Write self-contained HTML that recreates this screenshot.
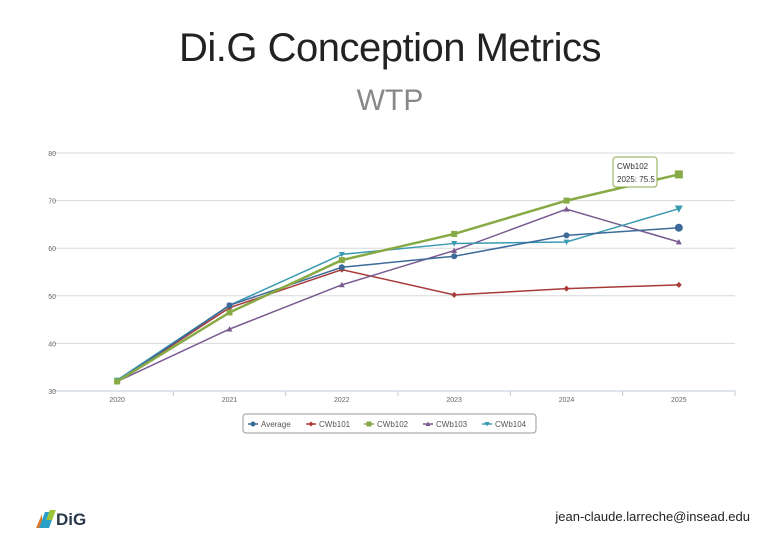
<!DOCTYPE html>
<html><head><meta charset="utf-8"><style>
body{margin:0;width:780px;height:540px;background:#fff;position:relative;overflow:hidden;font-family:"Liberation Sans","DejaVu Sans",sans-serif}
.t{position:absolute;left:0;width:780px;text-align:center}
</style></head><body>
<div class="t" style="top:26px;font-size:40px;color:#222;font-weight:300;letter-spacing:-0.5px">Di.G Conception Metrics</div>
<div class="t" style="top:84px;font-size:30px;color:#888">WTP</div>
<svg id="chart" width="780" height="540" style="position:absolute;left:0;top:0"></svg>
<div style="position:absolute;left:36px;top:510px;width:50px;height:20px">
<div style="position:absolute;left:0;top:4px;width:0;height:0;border-left:6px solid transparent;border-bottom:14px solid #e07a2a"></div>
<div style="position:absolute;left:6px;top:2px;width:10px;height:16px;background:#2aa0c8;transform:skewX(-20deg)"></div>
<div style="position:absolute;left:12px;top:0;width:6px;height:10px;background:#9cc43a;transform:skewX(-20deg)"></div>
<span style="position:absolute;left:20px;top:0;font-size:17px;font-weight:bold;color:#2a3a4a">DiG</span></div>
<div style="position:absolute;right:30px;top:509px;font-size:13px;color:#222">jean-claude.larreche@insead.edu</div>
<script>
const categories=["2020","2021","2022","2023","2024","2025"];
const yTicks=[30,40,50,60,70,80];
const seriesNames=["Average","CWb101","CWb102","CWb103","CWb104"];
const avgValues=[32,48,56,58.3,62.7,64.3];
const cwb101Values=[32,47.5,55.5,50.2,51.5,52.3];
const cwb102Values=[32,46.5,57.5,63,70,75.5];
const cwb103Values=[32,43,52.3,59.5,68.2,61.3];
const cwb104Values=[32.3,48,58.7,61,61.3,68.3];
const colors=["#3d6a9a","#a83a3a","#88aa44","#7a5a90","#3a9ab0"];
const markers=["circle","diamond","square","tri","tridown"];
const svg=document.getElementById('chart');const NS="http://www.w3.org/2000/svg";
const L=61,R=735,T=153,B=391;
const x=i=>L+(i+0.5)*(R-L)/categories.length;
const y=v=>B-(v-30)/50*(B-T);
function mk(tag,a,name){const e=document.createElementNS(NS,tag);for(const k in a)e.setAttribute(k,a[k]);


svg.appendChild(e);return e;}
yTicks.forEach(v=>{mk('line',{x1:L-8,x2:R,y1:y(v),y2:y(v),stroke:v==30?'#c0c8d8':'#d8d8d8','stroke-width':1},'gridline-'+v);
const t=mk('text',{x:L-5,y:y(v)+3,'font-size':7,fill:'#666','text-anchor':'end'},'y-tick-'+v);t.textContent=v;});
categories.forEach((c,i)=>{const t=mk('text',{x:x(i),y:B+11,'font-size':7,fill:'#666','text-anchor':'middle'},'x-tick-'+c);t.textContent=c;
const tx=L+(i+1)*(R-L)/categories.length;mk('line',{x1:tx,x2:tx,y1:B,y2:B+5,stroke:'#c0c8d8'},'x-tickmark');});
function marker(kind,cx,cy,c,s,name){
if(kind=="circle")return mk('circle',{cx,cy,r:s,fill:c},name);
if(kind=="square")return mk('rect',{x:cx-s,y:cy-s,width:2*s,height:2*s,fill:c},name);
let p;if(kind=="diamond")p=[[cx,cy-s],[cx+s,cy],[cx,cy+s],[cx-s,cy]];
else if(kind=="tri")p=[[cx,cy-s],[cx+s,cy+s*0.8],[cx-s,cy+s*0.8]];
else p=[[cx,cy+s],[cx+s,cy-s*0.8],[cx-s,cy-s*0.8]];
return mk('polygon',{points:p.map(q=>q.join(',')).join(' '),fill:c},name);}
const all=[avgValues,cwb101Values,cwb102Values,cwb103Values,cwb104Values];
[1,3,4,0,2].forEach(si=>{const vals=all[si];const w=si==2?2.5:1.5;
mk('polyline',{points:vals.map((v,i)=>x(i)+','+y(v)).join(' '),fill:'none',stroke:colors[si],'stroke-width':w},'line-'+seriesNames[si].toLowerCase());
vals.forEach((v,i)=>{const big=(si==2||si==0||si==4)&&i==5;marker(markers[si],x(i),y(v),colors[si],big?4:3,'point-'+seriesNames[si].toLowerCase()+'-'+categories[i]);});});
// tooltip
mk('rect',{x:613,y:157,width:44,height:30,rx:3,fill:'#fff',stroke:'#88aa44','stroke-width':1},'tooltip-box');
let tt=mk('text',{x:617,y:169,'font-size':8,fill:'#333'},'tooltip-series');tt.textContent=seriesNames[2];
tt=mk('text',{x:617,y:182,'font-size':8,fill:'#333'},'tooltip-value');tt.textContent=categories[5]+': '+cwb102Values[5];
// legend
mk('rect',{x:243,y:414,width:293,height:19,rx:3,fill:'#fff',stroke:'#999'},'legend-box');
const lx=[248,306,364,423,482];
seriesNames.forEach((n,i)=>{mk('line',{x1:lx[i],x2:lx[i]+10,y1:424,y2:424,stroke:colors[i],'stroke-width':1.5},'legend-line-'+n.toLowerCase());
marker(markers[i],lx[i]+5,424,colors[i],2.5,'legend-marker-'+n.toLowerCase());
const t=mk('text',{x:lx[i]+13,y:427,'font-size':8,fill:'#555'},'legend-entry-'+n.toLowerCase());t.textContent=n;});
</script>
</body></html>
